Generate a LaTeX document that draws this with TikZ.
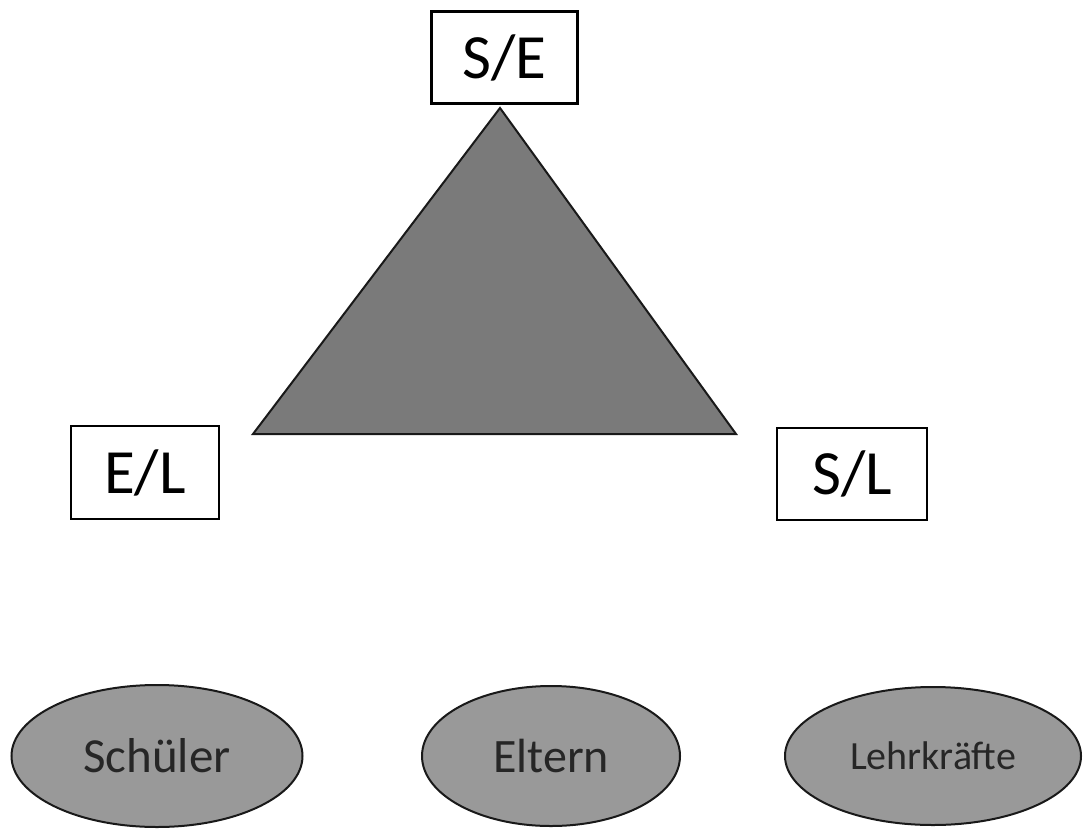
\documentclass[tikz,border=0pt]{standalone}
\usepackage{fontspec}
\setmainfont{Carlito}
\usetikzlibrary{shapes.geometric}
\begin{document}
\begin{tikzpicture}[x=1pt,y=-1pt,
  labelbox/.style={draw=black,line width=2.4pt,fill=white,rectangle,inner sep=0pt,
     minimum width=146pt,minimum height=92pt,font=\fontsize{63}{63}\selectfont},
  group/.style={ellipse,draw=black!90,line width=2pt,fill=black!40,inner sep=0pt,
     text=black!85},
  tri/.style={draw=black!90,line width=2pt,fill=black!52}]
\useasboundingbox (0,0) rectangle (1083,829);
\coordinate (apex) at (500,108);
\coordinate (bl) at (253,434);
\coordinate (br) at (736,434);
\draw[tri] (apex) -- (bl) -- (br) -- cycle;
\node[labelbox] (se) at (504.5,57.5) {S/E};
\node[labelbox,minimum width=148pt,minimum height=93pt] (el) at (145,472.5) {E/L};
\node[labelbox,minimum width=150pt,minimum height=92pt] (sl) at (852,474) {S/L};
\node[group,minimum width=291pt,minimum height=142pt,font=\fontsize{49}{49}\selectfont] (s) at (157,756) {Schüler};
\node[group,minimum width=258pt,minimum height=140pt,font=\fontsize{48}{48}\selectfont] (e) at (551,756) {Eltern};
\node[group,minimum width=296pt,minimum height=138pt,font=\fontsize{40}{40}\selectfont] (l) at (933,756) {Lehrkräfte};
\end{tikzpicture}
\end{document}
